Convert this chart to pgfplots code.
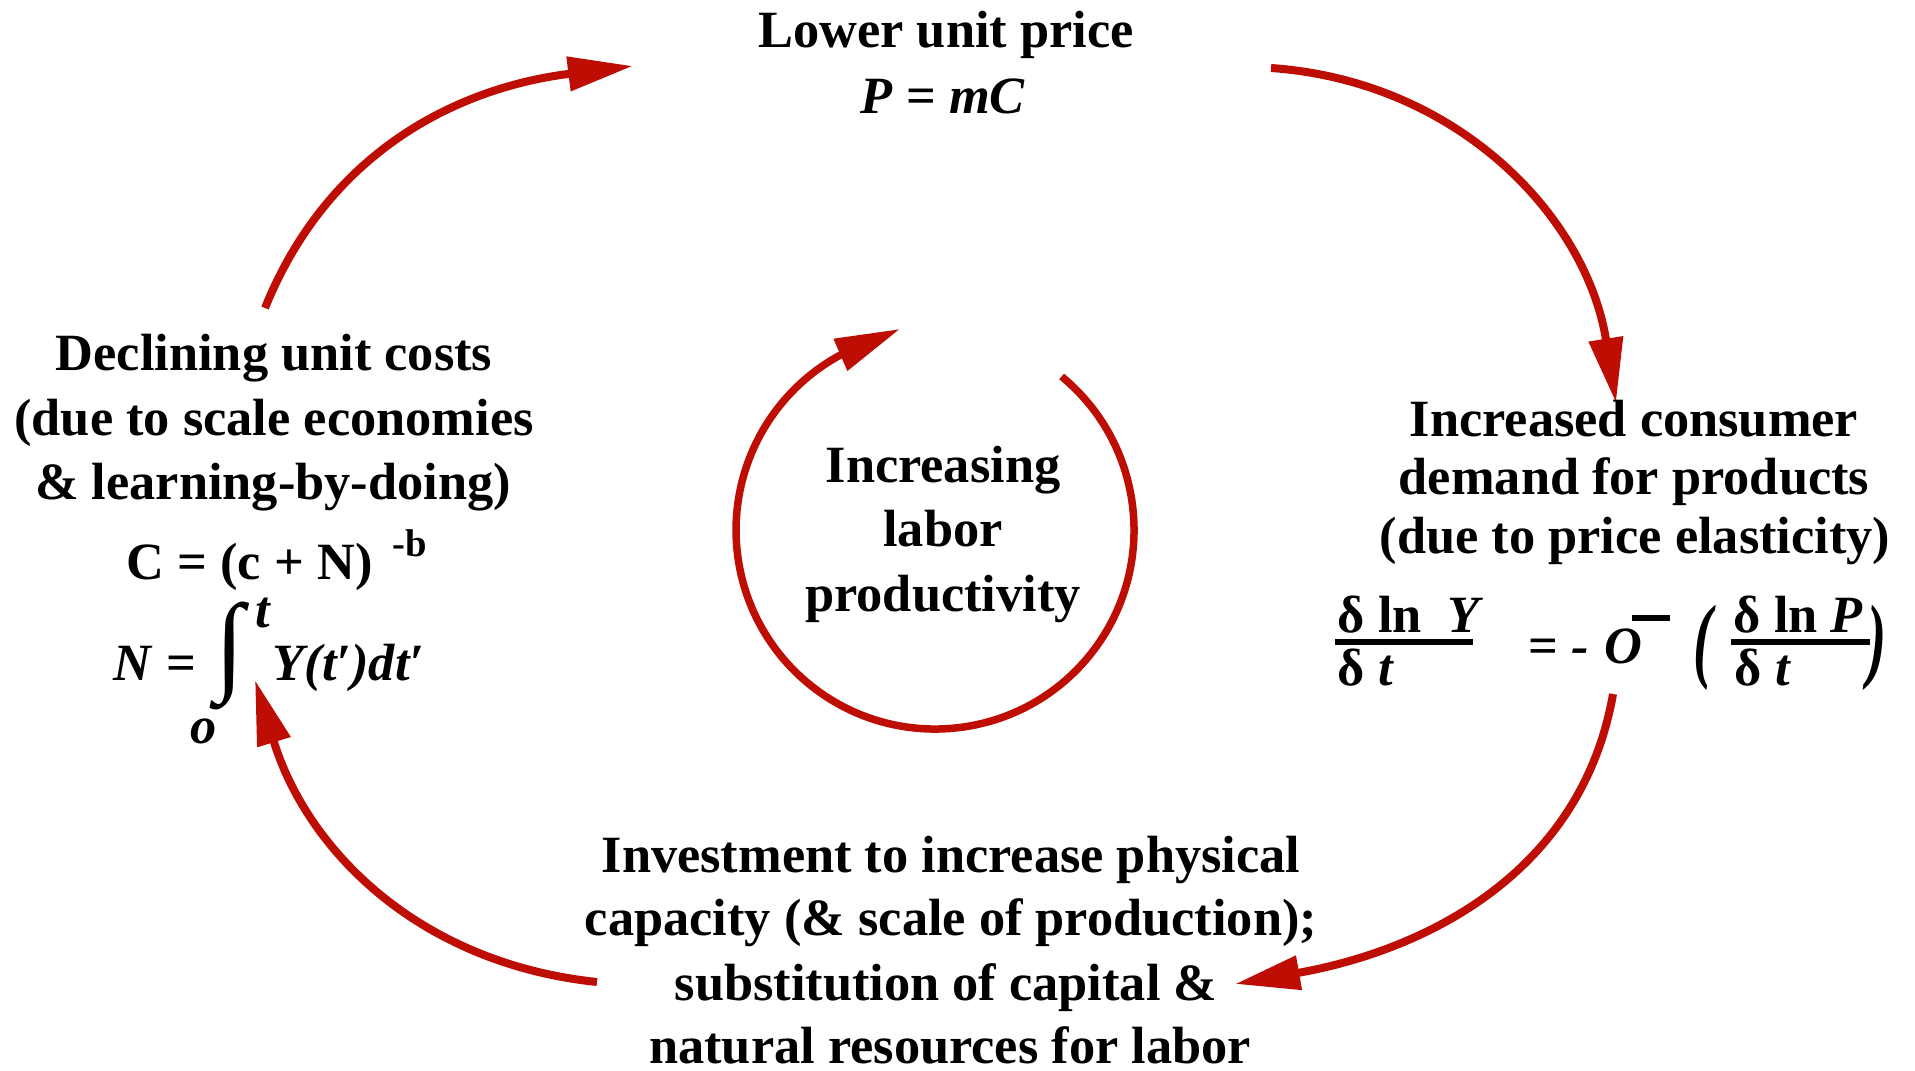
\documentclass[border=0pt]{standalone}
\usepackage{pgfplots}
\pgfplotsset{compat=1.18}
\usepackage{fontspec}
\setmainfont{Liberation Serif}
\usepackage{graphicx}
\usetikzlibrary{arrows.meta}
\definecolor{arrowred}{RGB}{190,14,4}

\begin{document}
\begin{tikzpicture}[
  txt/.style={font=\bfseries\fontsize{14.9}{18}\selectfont, inner sep=0pt, anchor=base},
  arr/.style={draw=arrowred, line width=0.08cm, -{Triangle[length=0.65cm,width=0.33cm]}},
]
\begin{axis}[
    width=19.15cm, height=10.7cm, scale only axis,
    xmin=0, xmax=1915, ymin=0, ymax=1070,
    hide axis, clip=false,
]
\coordinate (bl) at (0,0);
\coordinate (tr) at (1915,1070);

% outer cycle
\draw[arr] (265,762) to[out=68,in=187] (633,1004);
\draw[arr] (1271,1002) to[out=-4,in=99] (1616,667);
\draw[arr] (1613,376) to[out=260,in=10] (1235,86);
\draw[arr] (597,88) to[out=174,in=287] (255,390);

% inner cycle
\draw[arr, line width=0.075cm] (1061.6,693.5) arc[start angle=50.5, end angle=-242, radius=1.99cm] -- (900,741);

% top
\node[txt] at (946,1022) {Lower unit price};
\node[txt] at (943,956) {\textit{P} = \textit{mC}};

% left
\node[txt] at (274,700) {Declining unit costs};
\node[txt] at (274,635) {(due to scale economies};
\node[txt] at (273,571) {\& learning-by-doing)};
\node[txt, anchor=base west] at (126,491) {C = (c + N)};
\node[txt, anchor=base west, font=\bfseries\fontsize{11}{13}\selectfont] at (392,514) {-b};
\node[txt, anchor=base west] at (113,390) {\textit{N} =};
\node[txt, anchor=center] at (230,414) {\scalebox{2}[2.1]{∫}};
\node[txt, anchor=base west] at (255,443) {\textit{t}};
\node[txt, anchor=base west] at (190,327) {\textit{o}};
\node[txt, anchor=base west] at (272,390) {\textit{Y(t′)dt′}};

% right
\node[txt] at (1634,634) {Increased consumer};
\node[txt] at (1634,576) {demand for products};
\node[txt] at (1635,517) {(due to price elasticity)};
\node[txt, anchor=base west] at (1337,438) {δ ln};
\node[txt, anchor=base west] at (1447,438) {\textit{Y}};
\draw[line width=0.055cm] (1335,428) -- (1473,428);
\node[txt, anchor=base west] at (1337,385) {δ \textit{t}};
\node[txt, anchor=base west] at (1528,407) {=};
\node[txt, anchor=base west] at (1571,407) {\textit{-}};
\node[txt, anchor=base west] at (1604,407) {\textit{O}};
\draw[line width=0.06cm] (1632,452) -- (1670,452);
\node[txt, anchor=center] at (1705,422) {\scalebox{1.1}[1.8]{\textit{(}}};
\node[txt, anchor=base west] at (1733,438) {δ ln \textit{P}};
\draw[line width=0.055cm] (1731,428) -- (1870,428);
\node[txt, anchor=base west] at (1734,385) {δ \textit{t}};
\node[txt, anchor=center] at (1877,422) {\scalebox{1.1}[1.8]{\textit{)}}};

% centre
\node[txt] at (943,588) {Increasing};
\node[txt] at (943,524) {labor};
\node[txt] at (943,459) {productivity};

% bottom
\node[txt] at (951,198) {Investment to increase physical};
\node[txt] at (951,135) {capacity (\& scale of production);};
\node[txt] at (946,70) {substitution of capital \&};
\node[txt] at (950,7) {natural resources for labor};

\end{axis}
\pgfresetboundingbox
\path[use as bounding box] (bl) rectangle (tr);
\end{tikzpicture}
\end{document}
